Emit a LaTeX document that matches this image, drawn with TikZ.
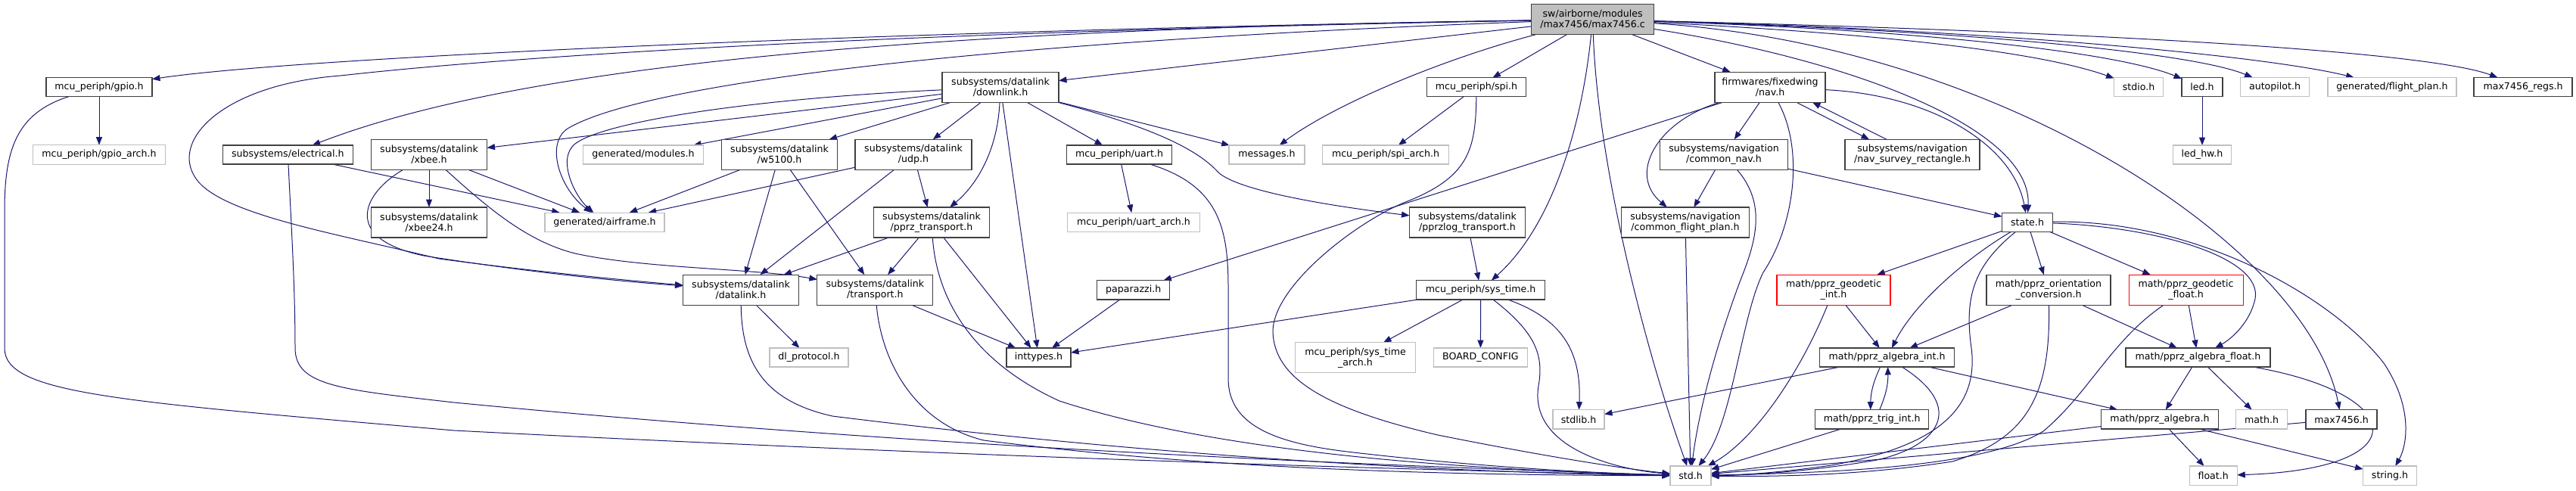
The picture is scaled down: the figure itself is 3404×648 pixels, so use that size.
\documentclass[tikz,border=0pt]{standalone}
\usepackage{fontspec}
\setmainfont{DejaVu Sans}
\usetikzlibrary{arrows.meta}
\definecolor{edgec}{HTML}{191970}
\definecolor{greyb}{HTML}{BFBFBF}
\definecolor{darkb}{HTML}{404040}
\pgfdeclarelayer{bg}
\pgfsetlayers{bg,main}
\tikzset{
 base/.style={rectangle, inner sep=0pt, outer sep=0pt, align=center, fill=white, font=\fontsize{12.6}{14}\selectfont, line width=1.1pt},
 nb/.style={base, draw=darkb},
 ng/.style={base, draw=greyb},
 nr/.style={base, draw=red},
 nroot/.style={base, draw=darkb, fill=greyb},
 sz/.style 2 args={minimum width=#1, minimum height=#2},
 dep/.style={draw=edgec, line width=1pt, -{Triangle[length=10.5pt,width=8pt]}},
}
\begin{document}
\begin{tikzpicture}[x=1pt,y=-1pt]
\useasboundingbox (0,0) rectangle (3404,648);
% row 0
\node[nroot, sz={161.5}{40}] (root) at (2104.6,25.7) {sw/airborne/modules\\/max7456/max7456.c};
% row 1
\node[nb, sz={140}{25}] (gpio) at (131,115) {mcu\_periph/gpio.h};
\node[nb, sz={154}{40}] (downlink) at (1322,115.3) {subsystems/datalink\\/downlink.h};
\node[nb, sz={131}{25}] (spi) at (1951,115.2) {mcu\_periph/spi.h};
\node[nb, sz={146}{40}] (nav) at (2339,115.3) {firmwares/fixedwing\\/nav.h};
\node[ng, sz={65}{25}] (stdio) at (2826,115) {stdio.h};
\node[nb, sz={54}{25}] (led) at (2910,115) {led.h};
\node[ng, sz={91}{25}] (autopilot) at (3006,115) {autopilot.h};
\node[ng, sz={170}{25}] (fplan) at (3161,115) {generated/flight\_plan.h};
\node[nb, sz={130}{25}] (regs) at (3334,115) {max7456\_regs.h};
% row 2
\node[ng, sz={174.5}{25.6}] (gpioarch) at (131,204.5) {mcu\_periph/gpio\_arch.h};
\node[nb, sz={172}{25}] (elec) at (380.4,204.5) {subsystems/electrical.h};
\node[nb, sz={153}{40}] (xbee) at (567,204.3) {subsystems/datalink\\/xbee.h};
\node[ng, sz={159}{25}] (modules) at (850,204.5) {generated/modules.h};
\node[nb, sz={153}{40}] (w5100) at (1030,204.3) {subsystems/datalink\\/w5100.h};
\node[nb, sz={154}{40}] (udp) at (1207,204.3) {subsystems/datalink\\/udp.h};
\node[nb, sz={139}{25}] (uart) at (1479,204.5) {mcu\_periph/uart.h};
\node[ng, sz={100}{25}] (messages) at (1674,204.5) {messages.h};
\node[ng, sz={167}{25}] (spiarch) at (1831,204.5) {mcu\_periph/spi\_arch.h};
\node[nb, sz={169}{40}] (cnav) at (2278,204.3) {subsystems/navigation\\/common\_nav.h};
\node[nb, sz={178}{40}] (survey) at (2527,204.3) {subsystems/navigation\\/nav\_survey\_rectangle.h};
\node[ng, sz={77}{25}] (ledhw) at (2910,204.5) {led\_hw.h};
% row 3
\node[nb, sz={153}{40}] (xbee24) at (567,294) {subsystems/datalink\\/xbee24.h};
\node[ng, sz={158}{25.3}] (airframe) at (799,293.7) {generated/airframe.h};
\node[nb, sz={153}{40}] (pprzt) at (1231,294) {subsystems/datalink\\/pprz\_transport.h};
\node[ng, sz={174.5}{25.3}] (uartarch) at (1498,293.7) {mcu\_periph/uart\_arch.h};
\node[nb, sz={153}{40}] (pprzlog) at (1939,294) {subsystems/datalink\\/pprzlog\_transport.h};
\node[nb, sz={169}{40}] (cfp) at (2227,294) {subsystems/navigation\\/common\_flight\_plan.h};
\node[nb, sz={67}{25.3}] (state) at (2679,293.7) {state.h};
% row 4
\node[nb, sz={153}{40}] (datalink) at (979,383.2) {subsystems/datalink\\/datalink.h};
\node[nb, sz={153}{40}] (transport) at (1156.4,383.2) {subsystems/datalink\\/transport.h};
\node[nb, sz={96}{25.3}] (paparazzi) at (1497.7,383.3) {paparazzi.h};
\node[nb, sz={170.6}{25.3}] (systime) at (1956.6,383.3) {mcu\_periph/sys\_time.h};
\node[nr, sz={150}{40}] (geoint) at (2423,383.2) {math/pprz\_geodetic\\\_int.h};
\node[nb, sz={164}{40}] (orient) at (2707,383.2) {math/pprz\_orientation\\\_conversion.h};
\node[nr, sz={151}{40}] (geofloat) at (2888.6,383.2) {math/pprz\_geodetic\\\_float.h};
% row 5
\node[ng, sz={104}{25}] (dlp) at (1069,472.5) {dl\_protocol.h};
\node[nb, sz={85}{25}] (inttypes) at (1372.5,472.5) {inttypes.h};
\node[ng, sz={159}{40}] (systimearch) at (1791,472.7) {mcu\_periph/sys\_time\\\_arch.h};
\node[ng, sz={124}{25}] (board) at (1956.4,472.5) {BOARD\_CONFIG};
\node[nb, sz={178.6}{25}] (algint) at (2493.6,472.5) {math/pprz\_algebra\_int.h};
\node[nb, sz={191}{25}] (algfloat) at (2904.5,472.5) {math/pprz\_algebra\_float.h};
% row 6
\node[ng, sz={68}{25.3}] (stdlib) at (2086,554.3) {stdlib.h};
\node[nb, sz={150}{25.3}] (trig) at (2473.7,554.3) {math/pprz\_trig\_int.h};
\node[nb, sz={155}{25.3}] (pprzalg) at (2854,554.3) {math/pprz\_algebra.h};
\node[ng, sz={68}{25.3}] (math) at (2988.5,554.3) {math.h};
\node[nb, sz={94}{25.3}] (maxh) at (3094,554.3) {max7456.h};
% row 7
\node[ng, sz={54}{25.6}] (std) at (2234,628.8) {std.h};
\node[ng, sz={63}{25.6}] (float) at (2924.7,628.8) {float.h};
\node[ng, sz={71}{25.6}] (string) at (3158,628.8) {string.h};

\begin{pgfonlayer}{bg}
% root
\draw[dep] (root) .. controls (1200,40) and (400,75) .. (gpio);
\draw[dep] (root) .. controls (1200,42) and (700,72) .. (450,100) .. controls (290,112) and (220,190) .. (262,240) .. controls (300,285) and (450,310) .. (580,342) .. controls (700,358) and (820,370) .. (datalink);
\draw[dep] (root) .. controls (1100,40) and (650,100) .. (elec);
\draw[dep] (root) .. controls (1300,55) and (850,110) .. (750,170) .. controls (720,190) and (740,250) .. (airframe);
\draw[dep] (root) -- (downlink);
\draw[dep] (root) .. controls (1900,80) and (1760,140) .. (messages);
\draw[dep] (root) -- (spi);
\draw[dep] (root) .. controls (2090,170) and (2050,300) .. (systime);
\draw[dep] (root) .. controls (2112,230) and (2180,480) .. (std);
\draw[dep] (root) -- (nav);
\draw[dep] (root) .. controls (2450,80) and (2685,170) .. (state);
\draw[dep] (root) .. controls (2500,45) and (2700,70) .. (stdio);
\draw[dep] (root) .. controls (2550,40) and (2800,70) .. (led);
\draw[dep] (root) .. controls (2600,40) and (2900,70) .. (autopilot);
\draw[dep] (root) .. controls (2650,40) and (3000,75) .. (fplan);
\draw[dep] (root) .. controls (2700,40) and (3200,65) .. (regs);
\draw[dep] (root) .. controls (2650,60) and (3050,330) .. (maxh);
% gpio
\draw[dep] (gpio) -- (gpioarch);
\draw[dep] (gpio) .. controls (20,150) and (6,200) .. (6,280) -- (6,460) .. controls (6,520) and (150,530) .. (600,569) .. controls (1200,600) and (1800,620) .. (std);
% electrical
\draw[dep] (elec) -- (airframe);
\draw[dep] (elec) .. controls (385,300) and (390,380) .. (390,460) .. controls (390,510) and (450,515) .. (600,532) .. controls (1200,590) and (1800,615) .. (std);
% downlink
\draw[dep] (downlink) .. controls (1000,130) and (800,160) .. (760,190) .. controls (735,210) and (760,260) .. (airframe);
\draw[dep] (downlink) -- (xbee);
\draw[dep] (downlink) -- (modules);
\draw[dep] (downlink) -- (w5100);
\draw[dep] (downlink) -- (udp);
\draw[dep] (downlink) .. controls (1318,200) and (1290,245) .. (pprzt);
\draw[dep] (downlink) -- (inttypes);
\draw[dep] (downlink) -- (uart);
\draw[dep] (downlink) -- (messages);
\draw[dep] (downlink) .. controls (1530,170) and (1585,200) .. (1610,228) .. controls (1640,255) and (1780,275) .. (pprzlog);
% xbee
\draw[dep] (xbee) -- (xbee24);
\draw[dep] (xbee) -- (airframe);
\draw[dep] (xbee) .. controls (480,255) and (450,315) .. (560,338) .. controls (700,360) and (820,372) .. (datalink);
\draw[dep] (xbee) .. controls (650,280) and (700,320) .. (760,335) .. controls (850,355) and (1000,355) .. (transport);
% w5100
\draw[dep] (w5100) -- (airframe);
\draw[dep] (w5100) -- (datalink);
\draw[dep] (w5100) -- (transport);
% udp
\draw[dep] (udp) -- (airframe);
\draw[dep] (udp) -- (datalink);
\draw[dep] (udp) -- (pprzt);
% pprz_transport
\draw[dep] (pprzt) -- (datalink);
\draw[dep] (pprzt) -- (transport);
\draw[dep] (pprzt) -- (inttypes);
\draw[dep] (pprzt) .. controls (1238,400) and (1290,480) .. (1400,530) .. controls (1600,595) and (1900,620) .. (std);
% transport
\draw[dep] (transport) -- (inttypes);
\draw[dep] (transport) .. controls (1165,480) and (1210,560) .. (1300,582) .. controls (1600,620) and (1900,628) .. (std);
% datalink
\draw[dep] (datalink) -- (dlp);
\draw[dep] (datalink) .. controls (980,480) and (1010,530) .. (1100,550) .. controls (1500,600) and (1900,625) .. (std);
% uart
\draw[dep] (uart) -- (uartarch);
\draw[dep] (uart) .. controls (1610,245) and (1623,300) .. (1623,380) -- (1623,500) .. controls (1623,560) and (1680,585) .. (1780,597) .. controls (1950,617) and (2100,625) .. (std);
% spi
\draw[dep] (spi) -- (spiarch);
\draw[dep] (spi) .. controls (1950,200) and (1940,235) .. (1855,268) .. controls (1790,295) and (1680,380) .. (1682,440) .. controls (1685,500) and (1750,540) .. (1900,575) .. controls (2050,605) and (2150,620) .. (std);
% paparazzi
\draw[dep] (paparazzi) -- (inttypes);
% pprzlog
\draw[dep] (pprzlog) -- (systime);
% sys_time
\draw[dep] (systime) -- (inttypes);
\draw[dep] (systime) -- (systimearch);
\draw[dep] (systime) -- (board);
\draw[dep] (systime) .. controls (2060,420) and (2090,460) .. (stdlib);
\draw[dep] (systime) .. controls (2030,440) and (2040,470) .. (2033,510) .. controls (2020,590) and (2130,620) .. (std);
% nav
\draw[dep] (nav) -- (cnav);
\draw[dep] (nav) .. controls (2190,160) and (2150,230) .. (cfp);
\draw[dep] (nav) -- (paparazzi);
\draw[dep] (nav) .. controls (2385,200) and (2370,300) .. (2330,360) .. controls (2300,420) and (2290,560) .. (std);
\draw[dep] ([xshift=35]nav.south) -- ([xshift=-57]survey.north);
\draw[dep] ([xshift=-34]survey.north) -- ([xshift=56]nav.south);
\draw[dep] (nav) .. controls (2550,125) and (2660,190) .. (state);
% common_nav
\draw[dep] (cnav) -- (cfp);
\draw[dep] (cnav) -- (state);
\draw[dep] (cnav) .. controls (2335,270) and (2320,320) .. (2300,370) .. controls (2270,450) and (2245,540) .. (std);
\draw[dep] (cfp) -- (std);
% led
\draw[dep] (led) -- (ledhw);
% state
\draw[dep] (state) -- (geoint);
\draw[dep] (state) .. controls (2600,340) and (2530,400) .. (algint);
\draw[dep] (state) .. controls (2610,350) and (2595,390) .. (2605,460) .. controls (2615,540) and (2560,590) .. (2420,615) .. controls (2350,625) and (2300,628) .. (std);
\draw[dep] (state) -- (orient);
\draw[dep] (state) -- (geofloat);
\draw[dep] (state) .. controls (2850,300) and (2990,340) .. (2980,395) .. controls (2972,430) and (2945,450) .. (algfloat);
\draw[dep] (state) .. controls (2900,290) and (3080,390) .. (3150,480) .. controls (3190,540) and (3180,590) .. (string);
% geodetic int
\draw[dep] (geoint) -- (algint);
\draw[dep] (geoint) .. controls (2380,490) and (2320,580) .. (std);
% orientation
\draw[dep] (orient) -- (algint);
\draw[dep] (orient) -- (algfloat);
\draw[dep] (orient) .. controls (2710,520) and (2680,580) .. (2580,610) .. controls (2450,630) and (2330,630) .. (std);
% geodetic float
\draw[dep] (geofloat) -- (algfloat);
\draw[dep] (geofloat) .. controls (2790,450) and (2760,520) .. (2700,570) .. controls (2620,620) and (2400,625) .. (std);
% algebra int
\draw[dep] ([xshift=-9]algint.south) to[bend right=12] ([xshift=-2]trig.north);
\draw[dep] ([xshift=10]trig.north) to[bend right=12] ([xshift=1]algint.south);
\draw[dep] (algint) .. controls (2600,540) and (2560,590) .. (2480,608) .. controls (2400,622) and (2320,628) .. (std);
\draw[dep] (algint) -- (pprzalg);
\draw[dep] (algint) -- (stdlib);
\draw[dep] (trig) -- (std);
% algebra float
\draw[dep] (algfloat) -- (pprzalg);
\draw[dep] (algfloat) -- (math);
\draw[dep] (algfloat) .. controls (3180,520) and (3200,620) .. (float);
% pprz_algebra
\draw[dep] (pprzalg) -- (float);
\draw[dep] (pprzalg) -- (string);
\draw[dep] (pprzalg) -- (std);
\draw[dep] (maxh) -- (std);
\end{pgfonlayer}
\end{tikzpicture}
\end{document}
